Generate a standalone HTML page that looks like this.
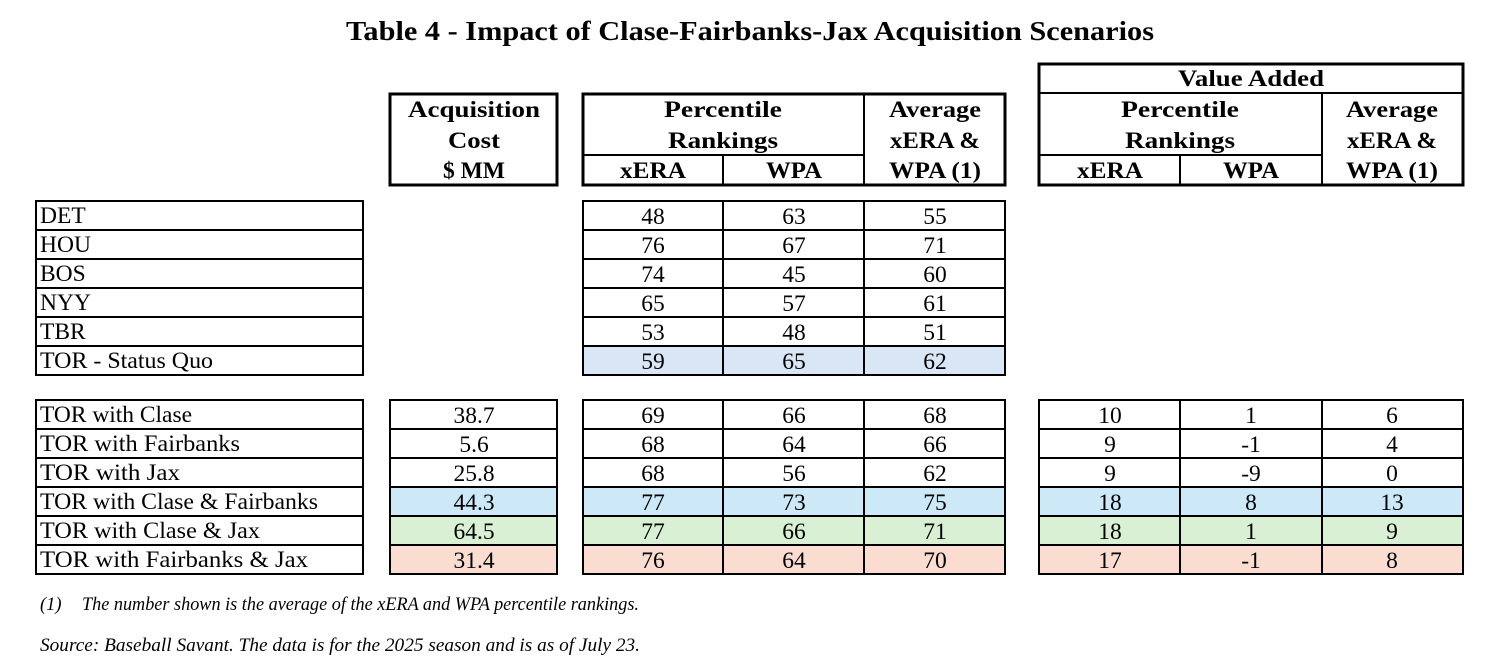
<!DOCTYPE html>
<html><head><meta charset="utf-8"><style>
html,body{margin:0;padding:0;background:#fff;width:1500px;height:672px;overflow:hidden}
text{font-family:"Liberation Serif",serif;fill:#000}
.h{font-weight:bold;font-size:23px}
.d{font-size:23.5px}
.f{font-style:italic;font-size:18.5px}
</style></head><body>
<svg width="1500" height="672" xmlns="http://www.w3.org/2000/svg">
<text x="750" y="40" text-anchor="middle" textLength="808" lengthAdjust="spacingAndGlyphs" style="font-weight:bold;font-size:27px">Table 4 - Impact of Clase-Fairbanks-Jax Acquisition Scenarios</text>

<g fill="none" stroke="#000">
<rect x="390" y="94" width="167" height="91" stroke-width="3"/>
<rect x="583" y="94" width="422" height="91" stroke-width="3"/>
<line x1="583" y1="155" x2="864" y2="155" stroke-width="2"/>
<line x1="723" y1="155" x2="723" y2="185" stroke-width="2"/>
<line x1="864" y1="94" x2="864" y2="185" stroke-width="2"/>
<rect x="1039" y="64" width="424" height="121" stroke-width="3"/>
<line x1="1039" y1="93" x2="1463" y2="93" stroke-width="2"/>
<line x1="1039" y1="155" x2="1322" y2="155" stroke-width="2"/>
<line x1="1180" y1="155" x2="1180" y2="185" stroke-width="2"/>
<line x1="1322" y1="93" x2="1322" y2="185" stroke-width="2"/>
</g>
<g text-anchor="middle">
<text class="h" x="474" y="117" textLength="132" lengthAdjust="spacingAndGlyphs">Acquisition</text>
<text class="h" x="474" y="148" textLength="52" lengthAdjust="spacingAndGlyphs">Cost</text>
<text class="h" x="474" y="178" textLength="62" lengthAdjust="spacingAndGlyphs">$ MM</text>
<text class="h" x="723" y="117" textLength="118" lengthAdjust="spacingAndGlyphs">Percentile</text>
<text class="h" x="723" y="148" textLength="110" lengthAdjust="spacingAndGlyphs">Rankings</text>
<text class="h" x="653" y="178" textLength="66" lengthAdjust="spacingAndGlyphs">xERA</text>
<text class="h" x="794" y="178" textLength="56" lengthAdjust="spacingAndGlyphs">WPA</text>
<text class="h" x="935" y="117" textLength="92" lengthAdjust="spacingAndGlyphs">Average</text>
<text class="h" x="935" y="148" textLength="90" lengthAdjust="spacingAndGlyphs">xERA &amp;</text>
<text class="h" x="935" y="178" textLength="92" lengthAdjust="spacingAndGlyphs">WPA (1)</text>
<text class="h" x="1251" y="86" textLength="146" lengthAdjust="spacingAndGlyphs">Value Added</text>
<text class="h" x="1180" y="117" textLength="118" lengthAdjust="spacingAndGlyphs">Percentile</text>
<text class="h" x="1180" y="148" textLength="110" lengthAdjust="spacingAndGlyphs">Rankings</text>
<text class="h" x="1110" y="178" textLength="66" lengthAdjust="spacingAndGlyphs">xERA</text>
<text class="h" x="1251" y="178" textLength="56" lengthAdjust="spacingAndGlyphs">WPA</text>
<text class="h" x="1392" y="117" textLength="92" lengthAdjust="spacingAndGlyphs">Average</text>
<text class="h" x="1392" y="148" textLength="90" lengthAdjust="spacingAndGlyphs">xERA &amp;</text>
<text class="h" x="1392" y="178" textLength="92" lengthAdjust="spacingAndGlyphs">WPA (1)</text>
</g>

<rect x="583" y="346" width="422" height="29" fill="#d9e6f6"/>
<rect x="390" y="487" width="167" height="29" fill="#cde9f8"/>
<rect x="583" y="487" width="422" height="29" fill="#cde9f8"/>
<rect x="1039" y="487" width="424" height="29" fill="#cde9f8"/>
<rect x="390" y="516" width="167" height="29" fill="#d9f0d4"/>
<rect x="583" y="516" width="422" height="29" fill="#d9f0d4"/>
<rect x="1039" y="516" width="424" height="29" fill="#d9f0d4"/>
<rect x="390" y="545" width="167" height="29" fill="#fadcd0"/>
<rect x="583" y="545" width="422" height="29" fill="#fadcd0"/>
<rect x="1039" y="545" width="424" height="29" fill="#fadcd0"/>

<g fill="none" stroke="#000" stroke-width="2">
<rect x="36" y="201" width="327" height="174"/>
<rect x="583" y="201" width="422" height="174"/>
<line x1="723" y1="201" x2="723" y2="375"/><line x1="864" y1="201" x2="864" y2="375"/>
<line x1="36" y1="230" x2="363" y2="230"/><line x1="583" y1="230" x2="1005" y2="230"/>
<line x1="36" y1="259" x2="363" y2="259"/><line x1="583" y1="259" x2="1005" y2="259"/>
<line x1="36" y1="288" x2="363" y2="288"/><line x1="583" y1="288" x2="1005" y2="288"/>
<line x1="36" y1="317" x2="363" y2="317"/><line x1="583" y1="317" x2="1005" y2="317"/>
<line x1="36" y1="346" x2="363" y2="346"/><line x1="583" y1="346" x2="1005" y2="346"/>
<rect x="36" y="400" width="327" height="174"/>
<rect x="390" y="400" width="167" height="174"/>
<rect x="583" y="400" width="422" height="174"/>
<rect x="1039" y="400" width="424" height="174"/>
<line x1="723" y1="400" x2="723" y2="574"/><line x1="864" y1="400" x2="864" y2="574"/>
<line x1="1180" y1="400" x2="1180" y2="574"/><line x1="1322" y1="400" x2="1322" y2="574"/>
</g>
<g stroke="#000" stroke-width="2">
<line x1="36" y1="429" x2="363" y2="429"/><line x1="390" y1="429" x2="557" y2="429"/><line x1="583" y1="429" x2="1005" y2="429"/><line x1="1039" y1="429" x2="1463" y2="429"/>
<line x1="36" y1="458" x2="363" y2="458"/><line x1="390" y1="458" x2="557" y2="458"/><line x1="583" y1="458" x2="1005" y2="458"/><line x1="1039" y1="458" x2="1463" y2="458"/>
<line x1="36" y1="487" x2="363" y2="487"/><line x1="390" y1="487" x2="557" y2="487"/><line x1="583" y1="487" x2="1005" y2="487"/><line x1="1039" y1="487" x2="1463" y2="487"/>
<line x1="36" y1="516" x2="363" y2="516"/><line x1="390" y1="516" x2="557" y2="516"/><line x1="583" y1="516" x2="1005" y2="516"/><line x1="1039" y1="516" x2="1463" y2="516"/>
<line x1="36" y1="545" x2="363" y2="545"/><line x1="390" y1="545" x2="557" y2="545"/><line x1="583" y1="545" x2="1005" y2="545"/><line x1="1039" y1="545" x2="1463" y2="545"/>
</g>

<g>
<text class="d" x="40" y="223">DET</text>
<text class="d" x="40" y="252">HOU</text>
<text class="d" x="40" y="281">BOS</text>
<text class="d" x="40" y="310">NYY</text>
<text class="d" x="40" y="339">TBR</text>
<text class="d" x="40" y="368" textLength="173" lengthAdjust="spacingAndGlyphs">TOR - Status Quo</text>
<text class="d" x="40" y="422" textLength="152" lengthAdjust="spacingAndGlyphs">TOR with Clase</text>
<text class="d" x="40" y="451" textLength="200" lengthAdjust="spacingAndGlyphs">TOR with Fairbanks</text>
<text class="d" x="40" y="480" textLength="140" lengthAdjust="spacingAndGlyphs">TOR with Jax</text>
<text class="d" x="40" y="509" textLength="278" lengthAdjust="spacingAndGlyphs">TOR with Clase &amp; Fairbanks</text>
<text class="d" x="40" y="538" textLength="220" lengthAdjust="spacingAndGlyphs">TOR with Clase &amp; Jax</text>
<text class="d" x="40" y="567" textLength="268" lengthAdjust="spacingAndGlyphs">TOR with Fairbanks &amp; Jax</text>
</g>
<g text-anchor="middle">
<text class="d" x="653" y="224">48</text><text class="d" x="794" y="224">63</text><text class="d" x="935" y="224">55</text>
<text class="d" x="653" y="253">76</text><text class="d" x="794" y="253">67</text><text class="d" x="935" y="253">71</text>
<text class="d" x="653" y="282">74</text><text class="d" x="794" y="282">45</text><text class="d" x="935" y="282">60</text>
<text class="d" x="653" y="311">65</text><text class="d" x="794" y="311">57</text><text class="d" x="935" y="311">61</text>
<text class="d" x="653" y="340">53</text><text class="d" x="794" y="340">48</text><text class="d" x="935" y="340">51</text>
<text class="d" x="653" y="369">59</text><text class="d" x="794" y="369">65</text><text class="d" x="935" y="369">62</text>

<text class="d" x="474" y="423">38.7</text><text class="d" x="653" y="423">69</text><text class="d" x="794" y="423">66</text><text class="d" x="935" y="423">68</text>
<text class="d" x="1110" y="423">10</text><text class="d" x="1251" y="423">1</text><text class="d" x="1392" y="423">6</text>
<text class="d" x="474" y="452">5.6</text><text class="d" x="653" y="452">68</text><text class="d" x="794" y="452">64</text><text class="d" x="935" y="452">66</text>
<text class="d" x="1110" y="452">9</text><text class="d" x="1251" y="452">-1</text><text class="d" x="1392" y="452">4</text>
<text class="d" x="474" y="481">25.8</text><text class="d" x="653" y="481">68</text><text class="d" x="794" y="481">56</text><text class="d" x="935" y="481">62</text>
<text class="d" x="1110" y="481">9</text><text class="d" x="1251" y="481">-9</text><text class="d" x="1392" y="481">0</text>
<text class="d" x="474" y="510">44.3</text><text class="d" x="653" y="510">77</text><text class="d" x="794" y="510">73</text><text class="d" x="935" y="510">75</text>
<text class="d" x="1110" y="510">18</text><text class="d" x="1251" y="510">8</text><text class="d" x="1392" y="510">13</text>
<text class="d" x="474" y="539">64.5</text><text class="d" x="653" y="539">77</text><text class="d" x="794" y="539">66</text><text class="d" x="935" y="539">71</text>
<text class="d" x="1110" y="539">18</text><text class="d" x="1251" y="539">1</text><text class="d" x="1392" y="539">9</text>
<text class="d" x="474" y="568">31.4</text><text class="d" x="653" y="568">76</text><text class="d" x="794" y="568">64</text><text class="d" x="935" y="568">70</text>
<text class="d" x="1110" y="568">17</text><text class="d" x="1251" y="568">-1</text><text class="d" x="1392" y="568">8</text>
</g>

<text class="f" x="40" y="610">(1)</text>
<text class="f" x="82" y="610" textLength="557" lengthAdjust="spacingAndGlyphs">The number shown is the average of the xERA and WPA percentile rankings.</text>
<text class="f" x="40" y="651" textLength="600" lengthAdjust="spacingAndGlyphs">Source: Baseball Savant. The data is for the 2025 season and is as of July 23.</text>
</svg>
</body></html>
